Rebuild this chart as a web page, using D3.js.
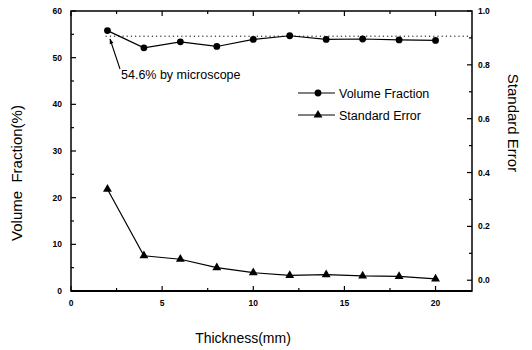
<!DOCTYPE html>
<html>
<head>
<meta charset="utf-8">
<script src="https://cdn.jsdelivr.net/npm/d3@7"></script>
<style>
  body { margin: 0; background: #fff; }
  svg { display: block; font-family: "Liberation Sans", Arial, sans-serif; }
</style>
</head>
<body>
<svg id="chart" width="532" height="350"></svg>
<script>
// Thickness of the specimen (mm)
const thickness = [2, 4, 6, 8, 10, 12, 14, 16, 18, 20];
// Measured volume fraction (%) — left axis
const volumeFraction = [55.8, 52.1, 53.4, 52.4, 53.9, 54.7, 53.9, 54.0, 53.8, 53.7];
// Standard error — right axis
const standardError = [0.338, 0.091, 0.078, 0.047, 0.028, 0.018, 0.021, 0.016, 0.014, 0.005];
// Reference value measured by microscope (%)
const microscopeValue = 54.6;

const xTicks = [0, 5, 10, 15, 20];
const yLeftTicks = [0, 10, 20, 30, 40, 50, 60];
const yRightTicks = [0.0, 0.2, 0.4, 0.6, 0.8, 1.0];

const svg = d3.select("#chart");
const L = 71, R = 472, T = 11, B = 291;

const x = d3.scaleLinear().domain([0, 22]).range([L, R]);
const yL = d3.scaleLinear().domain([0, 60]).range([B, T]);
const yR = d3.scaleLinear().domain([-0.04, 1.0]).range([B, T]);

// Frame
svg.append("rect")
  .attr("x", L).attr("y", T).attr("width", R - L).attr("height", B - T)
  .attr("fill", "none").attr("stroke", "#000").attr("stroke-width", 1.5);
svg.append("line").attr("x1", L).attr("x2", R).attr("y1", B).attr("y2", B)
  .attr("stroke", "#000").attr("stroke-width", 2);

// Ticks (inward) and labels
const tickG = svg.append("g").attr("stroke", "#000").attr("stroke-width", 1.2);
const minorX = d3.range(2.5, 22, 5);
xTicks.forEach(v => {
  tickG.append("line").attr("x1", x(v)).attr("x2", x(v)).attr("y1", B).attr("y2", B - 5);
  tickG.append("line").attr("x1", x(v)).attr("x2", x(v)).attr("y1", T).attr("y2", T + 5);
});
minorX.forEach(v => {
  tickG.append("line").attr("x1", x(v)).attr("x2", x(v)).attr("y1", B).attr("y2", B - 3);
  tickG.append("line").attr("x1", x(v)).attr("x2", x(v)).attr("y1", T).attr("y2", T + 3);
});
yLeftTicks.forEach(v => {
  tickG.append("line").attr("x1", L).attr("x2", L + 5).attr("y1", yL(v)).attr("y2", yL(v));
});
d3.range(5, 60, 10).forEach(v => {
  tickG.append("line").attr("x1", L).attr("x2", L + 3).attr("y1", yL(v)).attr("y2", yL(v));
});
yRightTicks.forEach(v => {
  tickG.append("line").attr("x1", R).attr("x2", R - 5).attr("y1", yR(v)).attr("y2", yR(v));
});
d3.range(0.1, 1.0, 0.2).forEach(v => {
  tickG.append("line").attr("x1", R).attr("x2", R - 3).attr("y1", yR(v)).attr("y2", yR(v));
});

const tickFont = { size: "8.5px", weight: "bold" };
svg.append("g").selectAll("text").data(xTicks).join("text")
  .attr("x", d => x(d)).attr("y", 306)
  .attr("text-anchor", "middle")
  .attr("font-size", tickFont.size).attr("font-weight", tickFont.weight)
  .text(d => d);
svg.append("g").selectAll("text").data(yLeftTicks).join("text")
  .attr("x", 62).attr("y", d => yL(d) + 3)
  .attr("text-anchor", "end")
  .attr("font-size", tickFont.size).attr("font-weight", tickFont.weight)
  .text(d => d);
svg.append("g").selectAll("text").data(yRightTicks).join("text")
  .attr("x", 478).attr("y", d => yR(d) + 3)
  .attr("text-anchor", "start")
  .attr("font-size", tickFont.size).attr("font-weight", tickFont.weight)
  .text(d => d3.format(".1f")(d));

// Axis titles
svg.append("text")
  .attr("transform", `translate(22,${(T + B) / 2 + 22}) rotate(-90)`)
  .attr("text-anchor", "middle").attr("font-size", "15px")
  .style("white-space", "pre")
  .text("Volume  Fraction(%)");
svg.append("text")
  .attr("transform", `translate(508,${(T + B) / 2 - 28}) rotate(90)`)
  .attr("text-anchor", "middle").attr("font-size", "15px")
  .text("Standard Error");
svg.append("text")
  .attr("x", 243).attr("y", 343)
  .attr("text-anchor", "middle").attr("font-size", "14px")
  .text("Thickness(mm)");

// Microscope reference line
svg.append("line")
  .attr("x1", x(1.9)).attr("x2", x(22))
  .attr("y1", yL(microscopeValue)).attr("y2", yL(microscopeValue))
  .attr("stroke", "#000").attr("stroke-width", 1).attr("stroke-dasharray", "1.2,3");

// Volume fraction series
const vfData = thickness.map((t, i) => [t, volumeFraction[i]]);
svg.append("path").datum(vfData)
  .attr("fill", "none").attr("stroke", "#000").attr("stroke-width", 1.2)
  .attr("d", d3.line().x(d => x(d[0])).y(d => yL(d[1])));
svg.append("g").selectAll("circle").data(vfData).join("circle")
  .attr("cx", d => x(d[0])).attr("cy", d => yL(d[1])).attr("r", 3.4).attr("fill", "#000");

// Standard error series
const seData = thickness.map((t, i) => [t, standardError[i]]);
const tri = d3.symbol().type(d3.symbolTriangle).size(34);
svg.append("path").datum(seData)
  .attr("fill", "none").attr("stroke", "#000").attr("stroke-width", 1.2)
  .attr("d", d3.line().x(d => x(d[0])).y(d => yR(d[1])));
svg.append("g").selectAll("path").data(seData).join("path")
  .attr("transform", d => `translate(${x(d[0])},${yR(d[1])})`)
  .attr("d", tri).attr("fill", "#000");

// Annotation with arrow
svg.append("defs").append("marker")
  .attr("id", "arrow").attr("viewBox", "0 0 10 10")
  .attr("refX", 9).attr("refY", 5).attr("markerWidth", 7).attr("markerHeight", 5)
  .attr("orient", "auto")
  .append("path").attr("d", "M0,1.5 L10,5 L0,8.5 Z").attr("fill", "#000");
svg.append("line")
  .attr("x1", 120).attr("y1", 69)
  .attr("x2", 110).attr("y2", 39)
  .attr("stroke", "#000").attr("stroke-width", 1.1).attr("marker-end", "url(#arrow)");
svg.append("text")
  .attr("x", 121).attr("y", 79).attr("font-size", "12.5px")
  .text(microscopeValue + "% by microscope");

// Legend
const legend = [
  { label: "Volume Fraction", y: 93, sym: "circle" },
  { label: "Standard Error", y: 115, sym: "triangle" }
];
legend.forEach(e => {
  svg.append("line").attr("x1", 298).attr("x2", 335).attr("y1", e.y).attr("y2", e.y)
    .attr("stroke", "#000").attr("stroke-width", 1);
  if (e.sym === "circle") {
    svg.append("circle").attr("cx", 318).attr("cy", e.y).attr("r", 3.4).attr("fill", "#000");
  } else {
    svg.append("path").attr("transform", `translate(318,${e.y})`).attr("d", tri).attr("fill", "#000");
  }
  svg.append("text").attr("x", 339).attr("y", e.y + 4.5).attr("font-size", "12.5px").text(e.label);
});
</script>
</body>
</html>
